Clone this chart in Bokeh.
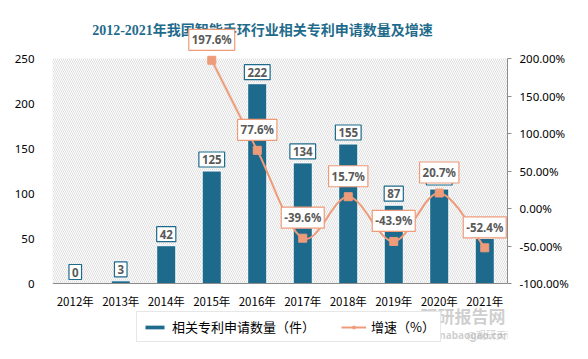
from bokeh.plotting import figure
from bokeh.models import (Range1d, LinearAxis, ColumnDataSource, BoxAnnotation, Span, Label,
                          Legend, LegendItem, FixedTicker, PrintfTickFormatter)
from bokeh.core.properties import value
from bokeh.embed import file_html
from bokeh.resources import INLINE

# ---- data ----
years = ["2012年", "2013年", "2014年", "2015年", "2016年", "2017年", "2018年", "2019年", "2020年", "2021年"]
counts = [0, 3, 42, 125, 222, 134, 155, 87, 105, 50]
growth_years = ["2015年", "2016年", "2017年", "2018年", "2019年", "2020年", "2021年"]
growth = [197.6, 77.6, -39.6, 15.7, -43.9, 20.7, -52.4]
left_ticks = [0, 50, 100, 150, 200, 250]
right_ticks = [-100, -50, 0, 50, 100, 150, 200]
title = "2012-2021年我国智能手环行业相关专利申请数量及增速"

BAR = "#1D6A8C"
LINE = "#EE9B7A"
TXT = "#595959"

# ---- layout constants (pixels) ----
FIG_W, FIG_H = 580, 352
LEFT, RIGHT = 52, 73
TOP_Y, ZERO_Y = 58, 283          # pixel rows of the top and zero of the value axes
L_MAX, P_MIN, P_MAX = left_ticks[-1], right_ticks[0], right_ticks[-1]
ppu = (ZERO_Y - TOP_Y) / L_MAX
ppp = (ZERO_Y - TOP_Y) / (P_MAX - P_MIN)
ppx = (FIG_W - LEFT - RIGHT) / len(years)

def y_at(px):
    return L_MAX + (TOP_Y - px) / ppu

def x_at(px):
    return -0.5 + (px - LEFT) / ppx

xi = list(range(len(years)))
gx = [years.index(y) for y in growth_years]

p = figure(width=FIG_W, height=FIG_H, output_backend="svg", toolbar_location=None,
           x_axis_location=None,
           x_range=Range1d(-0.5, len(years) - 0.5),
           y_range=Range1d(y_at(FIG_H), y_at(0)),
           min_border_left=LEFT, min_border_right=RIGHT, min_border_top=0, min_border_bottom=0)
p.extra_y_ranges = {"pct": Range1d(P_MIN - (FIG_H - ZERO_Y) / ppp, P_MAX + TOP_Y / ppp)}
p.outline_line_color = None
p.background_fill_color = "white"
p.border_fill_color = "white"
p.xgrid.visible = False
p.ygrid.visible = False

# hatched plot area
p.add_layout(BoxAnnotation(bottom=0, top=L_MAX, fill_color=None, line_color=None,
                           hatch_pattern="\\", hatch_color="#D6D6D6", hatch_scale=4,
                           hatch_weight=0.8, level="underlay"))

src = ColumnDataSource(dict(x=xi, y=counts, lab=[str(c) for c in counts]))
bars = p.vbar(x="x", top="y", width=0.42, source=src, fill_color=BAR, line_color="white", line_width=1)

# category axis line and labels
p.add_layout(Span(location=0, dimension="width", line_color="#8C8C8C", line_width=1))
p.text(x=xi, y=[0] * len(xi), text=years, text_align="center", text_baseline="top",
       y_offset=9, text_font=value("Noto Sans CJK SC"), text_font_size="11.5px",
       text_color="#000000")

# smooth growth line (Catmull-Rom -> Bezier)
n = len(growth)
X = [float(v) for v in gx]
Y = growth
def P(i):
    i = max(0, min(n - 1, i))
    return X[i], Y[i]
x0s, y0s, x1s, y1s, cx0, cy0, cx1, cy1 = [], [], [], [], [], [], [], []
for i in range(n - 1):
    pa, pb, pc, pd = P(i - 1), P(i), P(i + 1), P(i + 2)
    x0s.append(pb[0]); y0s.append(pb[1]); x1s.append(pc[0]); y1s.append(pc[1])
    cx0.append(pb[0] + (pc[0] - pa[0]) / 6); cy0.append(pb[1] + (pc[1] - pa[1]) / 6)
    cx1.append(pc[0] - (pd[0] - pb[0]) / 6); cy1.append(pc[1] - (pd[1] - pb[1]) / 6)
bez = p.bezier(x0=x0s, y0=y0s, x1=x1s, y1=y1s, cx0=cx0, cy0=cy0, cx1=cx1, cy1=cy1,
               line_color=LINE, line_width=2, y_range_name="pct")
gsrc = ColumnDataSource(dict(x=gx, y=growth, lab=[f"{g:.1f}%" for g in growth]))
sc = p.scatter(x="x", y="y", source=gsrc, marker="square", size=8, fill_color=LINE,
               line_color=LINE, y_range_name="pct")

# value axes
p.yaxis.ticker = FixedTicker(ticks=left_ticks)
p.yaxis.axis_line_color = None
p.yaxis.major_tick_line_color = None
p.yaxis.minor_tick_line_color = None
p.yaxis.major_label_text_font = "Noto Sans"
p.yaxis.major_label_text_font_size = "11.5px"
p.yaxis.major_label_text_color = "#000000"
p.yaxis.major_label_standoff = 12

ra = LinearAxis(y_range_name="pct", ticker=FixedTicker(ticks=right_ticks),
                formatter=PrintfTickFormatter(format="%.2f%%"), bounds=(P_MIN, P_MAX))
ra.axis_line_color = "#8C8C8C"
ra.major_tick_line_color = "#8C8C8C"
ra.major_tick_in = 0
ra.major_tick_out = 4
ra.minor_tick_line_color = None
ra.major_label_text_font = "Noto Sans"
ra.major_label_text_font_size = "11.5px"
ra.major_label_text_color = "#000000"
ra.major_label_standoff = 8
p.add_layout(ra, "right")

# data labels
p.text(x="x", y="y", text="lab", source=src, text_align="center",
       text_baseline="bottom", y_offset=-4, text_font=value("Noto Sans"),
       text_font_style="bold", text_font_size="11.5px", text_color=TXT,
       background_fill_color="white", border_line_color=BAR,
       border_line_width=1.2, padding=3, level="overlay")
p.text(x="x", y="y", text="lab", source=gsrc, y_range_name="pct",
       text_align="center", text_baseline="bottom", y_offset=-10,
       text_font=value("Noto Sans"), text_font_style="bold", text_font_size="11.5px",
       text_color=TXT, background_fill_color="white",
       border_line_color=LINE, border_line_width=1.2, padding=3, level="overlay")

# title
p.add_layout(Label(x=x_at(262), y=y_at(30), text=title, text_align="center",
                   text_baseline="middle", text_font="Liberation Serif, Noto Sans CJK SC",
                   text_font_style="bold", text_font_size="14px", text_color="#1F6B8C"))

# legend
leg = Legend(items=[LegendItem(label="相关专利申请数量（件）", renderers=[bars]),
                    LegendItem(label="增速（%）", renderers=[bez, sc])],
             orientation="horizontal", location=(84, 10),
             label_text_font="Noto Sans CJK SC", label_text_font_size="13px",
             label_text_color="#000000", glyph_width=25, glyph_height=6,
             label_standoff=5, spacing=26, padding=5, margin=0, label_height=14,
             border_line_color="#D0D0D0", border_line_width=1,
             background_fill_color="white", background_fill_alpha=1)
p.add_layout(leg)

# watermark
p.add_layout(Label(x=x_at(420), y=y_at(315), text="观研报告网", text_baseline="middle",
                   text_font="Noto Sans CJK SC", text_font_style="bold", text_font_size="17px",
                   text_color="#A0A0A0", text_alpha=0.5))
p.add_layout(Label(x=x_at(424), y=y_at(334), text="chinabaogao.com", text_baseline="middle",
                   text_font="Noto Sans", text_font_style="bold", text_font_size="10px",
                   text_color="#A0A0A0", text_alpha=0.5))
p.add_layout(Label(x=x_at(466), y=y_at(334), text="@观研天下", text_baseline="middle",
                   text_font="Noto Sans CJK SC", text_font_size="10px",
                   text_color="#A0A0A0", text_alpha=0.5))

open("out.html", "w").write(file_html(p, INLINE))
